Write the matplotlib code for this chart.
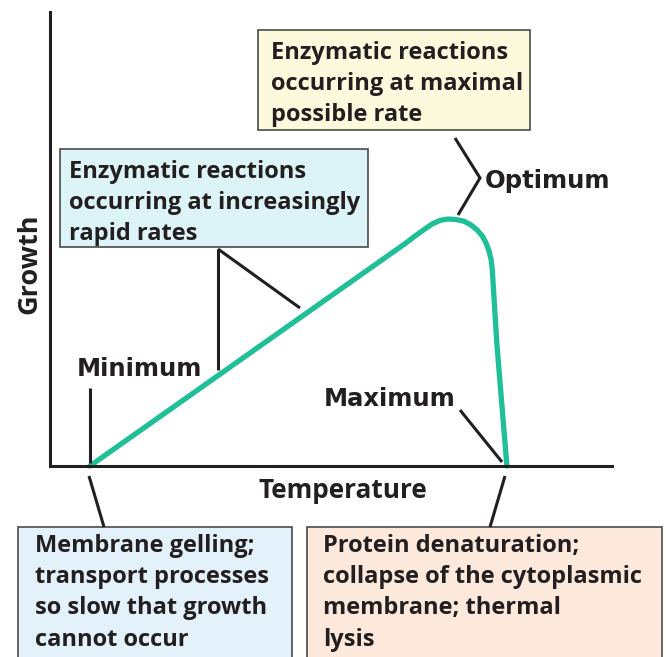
import matplotlib.pyplot as plt
from matplotlib.patches import Rectangle

# curve (temperature, growth in arbitrary units 0-100)
temperature = [7.1, 63.2, 65.0, 66.7, 68.0, 69.4, 70.8, 72.2, 73.7, 74.9, 76.0,
               76.9, 77.6, 78.1, 78.5, 78.7, 79.5, 81.3]
growth = [0.0, 49.0, 50.7, 52.2, 53.3, 54.1, 54.4, 54.3, 53.9, 53.1, 52.0,
          50.7, 49.1, 47.4, 45.4, 43.2, 27.1, 0.0]

box_top = ["Enzymatic reactions", "occurring at maximal", "possible rate"]
box_left = ["Enzymatic reactions", "occurring at increasingly", "rapid rates"]
box_bl = ["Membrane gelling;", "transport processes", "so slow that growth", "cannot occur"]
box_br = ["Protein denaturation;", "collapse of the cytoplasmic", "membrane; thermal", "lysis"]

W, H = 666, 657
fig = plt.figure(figsize=(W / 100, H / 100), dpi=100)

# main axes: spines at x=50px, y=466px
ax = fig.add_axes([50 / W, (H - 466) / H, 562 / W, 454 / H])
ax.plot(temperature, growth, color='#1fbf98', lw=3.8, solid_joinstyle='round',
        solid_capstyle='round', clip_on=False)
ax.set_xlim(0, 100)
ax.set_ylim(0, 100)
for s in ['top', 'right']:
    ax.spines[s].set_visible(False)
for s in ['left', 'bottom']:
    ax.spines[s].set_linewidth(2.2)
    ax.spines[s].set_color('#231f20')
ax.set_xticks([])
ax.set_yticks([])

# overlay in pixel coords for labels and boxes
ov = fig.add_axes([0, 0, 1, 1])
ov.set_xlim(0, W)
ov.set_ylim(H, 0)
ov.axis('off')
ov.patch.set_alpha(0)

txt = '#231f20'
bodyfont = dict(family=['Open Sans', 'DejaVu Sans'], weight='bold', color=txt, fontsize=17.0)
tagfont = dict(family='DejaVu Sans', weight='bold', color=txt, fontsize=17.5)


def box(x0, y0, x1, y1, face, lines, tx, ty):
    ov.add_patch(Rectangle((x0, y0), x1 - x0, y1 - y0, facecolor=face,
                           edgecolor='#4a4a4a', lw=1.2))
    ov.text(tx, ty, "\n".join(lines), ha='left', va='top', linespacing=1.40, **bodyfont)


box(258, 30, 530, 130, '#fdf9dc', box_top, 271, 41)
box(60, 149, 368, 247, '#dcf4f7', box_left, 69, 160)
box(18, 527, 292, 662, '#e2f1fa', box_bl, 35, 534)
box(307, 527, 662, 662, '#fde8dc', box_br, 323, 534)

ov.text(29, 264, "Growth", rotation=90, ha='center', va='center', **{**bodyfont, 'fontsize': 19.5})
ov.text(343, 491, "Temperature", ha='center', va='center', **{**bodyfont, 'fontsize': 18.8})

ov.text(139, 369, "Minimum", ha='center', va='center', **tagfont)
ov.text(390, 399, "Maximum", ha='center', va='center', **tagfont)
ov.text(547, 181, "Optimum", ha='center', va='center', **tagfont)

lk = dict(color='#231f20', lw=2.2, solid_capstyle='butt')
ov.plot([90, 90], [388, 463], **lk)
ov.plot([89, 104], [476, 527], **lk)
ov.plot([505, 490], [476, 527], **lk)
ov.plot([460, 502], [410, 462], **lk)
ov.plot([455, 480, 458], [138, 178, 215], solid_joinstyle='miter', **lk)
ov.plot([218, 218], [249, 370], **lk)
ov.plot([218, 300], [249, 308], **lk)

fig.savefig('out.png', dpi=100)
